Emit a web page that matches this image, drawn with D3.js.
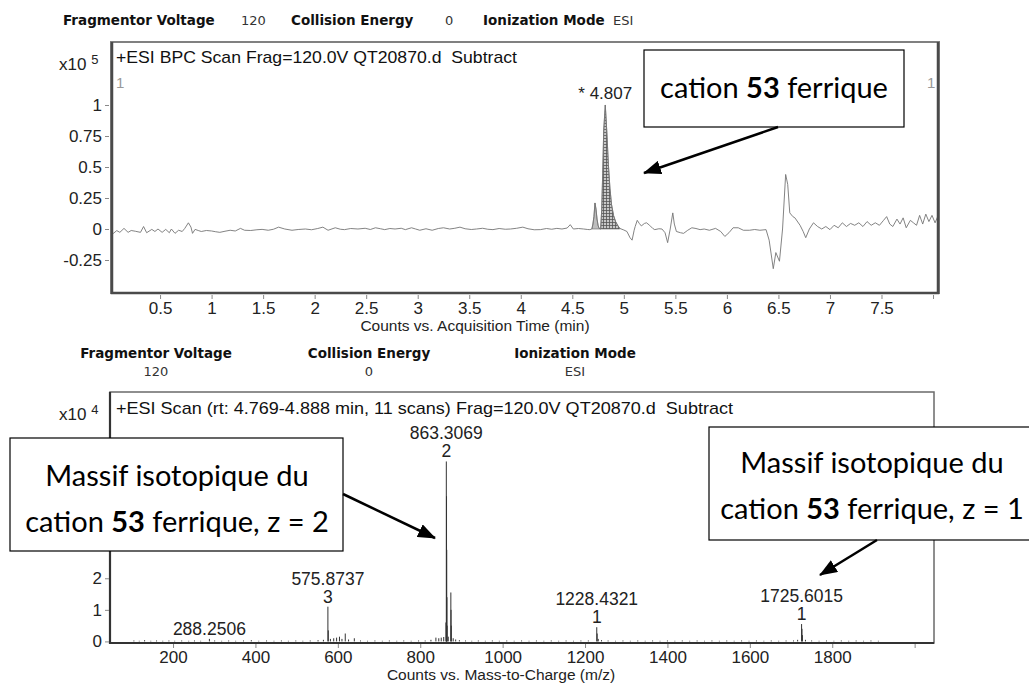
<!DOCTYPE html>
<html>
<head>
<meta charset="utf-8">
<script src="https://cdn.jsdelivr.net/npm/d3@7"></script>
<style>
	body { margin: 0; background: #fff; }
	#container { width: 1029px; height: 686px; overflow: hidden; }
</style>
</head>
<body>
<div id="container"></div>
<script>
// BPC chromatogram: [time (min), counts x10^5]
var bpcTrace = [
	[0.03, -0.02], [0.047, -0.035], [0.08, -0.013], [0.11, -0.027], [0.15, 0.005], [0.19, -0.027],
	[0.22, -0.012], [0.26, -0.018], [0.31, -0.027], [0.34, 0.02], [0.37, -0.03], [0.42, -0.003],
	[0.45, -0.02], [0.48, 0.0], [0.52, -0.027], [0.555, -0.003], [0.59, -0.03], [0.61, 0.0],
	[0.645, -0.035], [0.68, -0.01], [0.715, -0.02], [0.74, 0.005], [0.775, 0.05], [0.80, 0.015],
	[0.815, -0.035], [0.84, -0.003], [0.87, -0.012], [0.90, -0.02], [0.95, -0.012], [1.0, -0.016],
	[1.04, -0.022], [1.08, -0.027], [1.13, -0.018], [1.18, -0.01], [1.23, -0.016], [1.28, 0.005],
	[1.32, -0.01], [1.38, -0.012], [1.44, -0.006], [1.49, -0.003], [1.55, -0.01], [1.60, -0.002],
	[1.65, 0.015], [1.71, 0.0], [1.78, -0.01], [1.84, -0.004], [1.91, 0.0], [1.97, -0.006],
	[2.03, 0.004], [2.08, 0.015], [2.13, -0.01], [2.20, 0.01], [2.25, -0.002], [2.29, -0.005],
	[2.35, 0.004], [2.42, 0.0], [2.49, 0.006], [2.54, -0.004], [2.59, 0.01], [2.64, 0.002],
	[2.68, -0.005], [2.73, 0.004], [2.78, 0.0], [2.84, 0.006], [2.88, -0.005], [2.94, 0.01],
	[2.98, 0.0], [3.02, -0.01], [3.08, 0.002], [3.14, -0.01], [3.20, 0.004], [3.25, 0.01],
	[3.31, 0.0], [3.36, 0.006], [3.41, 0.015], [3.46, 0.002], [3.52, -0.004], [3.57, 0.0],
	[3.63, 0.006], [3.68, -0.002], [3.73, -0.005], [3.79, 0.004], [3.85, -0.002], [3.90, 0.0],
	[3.96, 0.006], [4.02, 0.015], [4.07, 0.002], [4.13, -0.006], [4.19, -0.005], [4.25, 0.004],
	[4.30, -0.002], [4.35, 0.005], [4.40, 0.0], [4.45, 0.008], [4.48, 0.035], [4.51, 0.0],
	[4.56, 0.004], [4.61, 0.0], [4.65, -0.004], [4.67, -0.005], [4.69, 0.0], [4.70, 0.04],
	[4.71, 0.1], [4.72, 0.21], [4.73, 0.16], [4.74, 0.08], [4.75, 0.03], [4.76, 0.005],
	[4.775, 0.0], [4.785, 0.15], [4.795, 0.45], [4.805, 0.8], [4.82, 1.0], [4.835, 0.78],
	[4.85, 0.52], [4.865, 0.33], [4.88, 0.2], [4.90, 0.11], [4.92, 0.06], [4.94, 0.03],
	[4.96, 0.005], [5.0, -0.008], [5.03, -0.02], [5.06, -0.07], [5.08, -0.09], [5.10, -0.01],
	[5.11, 0.02], [5.13, 0.07], [5.15, 0.045], [5.17, 0.025], [5.20, 0.045], [5.22, 0.05],
	[5.25, 0.03], [5.28, 0.005], [5.30, -0.005], [5.34, 0.002], [5.37, 0.0], [5.40, -0.03],
	[5.425, -0.11], [5.45, 0.0], [5.475, 0.13], [5.49, 0.04], [5.51, -0.02], [5.55, -0.03],
	[5.58, -0.035], [5.62, -0.01], [5.66, 0.01], [5.70, 0.004], [5.74, -0.005], [5.78, 0.0],
	[5.83, -0.01], [5.89, 0.005], [5.94, -0.02], [5.98, -0.06], [6.02, -0.03], [6.06, 0.01],
	[6.11, 0.01], [6.16, -0.01], [6.22, -0.01], [6.27, -0.004], [6.32, -0.01], [6.38, -0.005],
	[6.41, -0.09], [6.45, -0.32], [6.475, -0.19], [6.51, -0.26], [6.54, 0.0], [6.57, 0.44],
	[6.59, 0.36], [6.61, 0.13], [6.64, 0.1], [6.66, 0.09], [6.71, 0.03], [6.74, -0.02],
	[6.765, -0.07], [6.80, 0.0], [6.84, 0.05], [6.88, 0.02], [6.92, 0.0], [6.96, 0.02],
	[7.0, -0.005], [7.04, 0.03], [7.08, 0.01], [7.12, 0.05], [7.16, 0.02], [7.20, 0.045],
	[7.24, 0.03], [7.28, 0.05], [7.32, 0.02], [7.36, 0.06], [7.40, 0.03], [7.44, 0.05],
	[7.48, 0.03], [7.52, 0.07], [7.55, 0.10], [7.58, 0.04], [7.61, 0.02], [7.65, 0.08],
	[7.68, 0.04], [7.71, 0.09], [7.74, 0.01], [7.78, 0.07], [7.81, 0.05], [7.84, 0.03],
	[7.87, 0.11], [7.90, 0.04], [7.93, 0.12], [7.96, 0.06], [7.99, 0.11], [8.02, 0.05],
	[8.05, 0.11]
];
var bpcPeakWindows = [[4.69, 4.775], [4.775, 4.96]];
var bpcApex = [4.82, 1.0, '* 4.807'];
var bpcXTicks = [0.5, 1, 1.5, 2, 2.5, 3, 3.5, 4, 4.5, 5, 5.5, 6, 6.5, 7, 7.5, 8];
var bpcYTicks = [-0.25, 0, 0.25, 0.5, 0.75, 1];

// mass spectrum: [m/z, counts x10^4]
var specPeaks = [
	[105, 0.03], [118, 0.02], [131, 0.04], [146, 0.02], [160, 0.03], [175, 0.02], [190, 0.03],
	[204, 0.02], [221, 0.03], [238, 0.02], [252, 0.03], [267, 0.02], [288.2506, 0.08], [301, 0.03],
	[318, 0.02], [335, 0.03], [352, 0.02], [371, 0.03], [390, 0.04], [408, 0.02], [427, 0.03],
	[445, 0.02], [463, 0.03], [480, 0.02], [498, 0.03], [515, 0.02], [533, 0.03], [552, 0.04],
	[565, 0.05], [575.8737, 1.1], [576.87, 0.35], [582, 0.08], [590, 0.1], [597, 0.12], [604, 0.15],
	[610, 0.08], [618, 0.25], [626, 0.06], [640, 0.1], [655, 0.03], [672, 0.02], [690, 0.03],
	[708, 0.02], [725, 0.03], [743, 0.02], [760, 0.03], [778, 0.02], [796, 0.03], [812, 0.03],
	[826, 0.05], [838, 0.12], [845, 0.1], [851, 0.12], [857, 0.14], [862.31, 0.6], [863.3069, 5.7],
	[863.81, 4.6], [864.31, 2.9], [864.81, 1.4], [865.31, 0.5], [868, 0.15], [874.3, 1.55],
	[874.8, 1.0], [875.3, 0.5], [880, 0.1], [886, 0.06], [895, 0.04], [910, 0.03], [925, 0.02],
	[941, 0.03], [958, 0.02], [975, 0.03], [992, 0.02], [1010, 0.03], [1028, 0.02], [1046, 0.03],
	[1064, 0.02], [1082, 0.03], [1100, 0.02], [1118, 0.03], [1136, 0.02], [1154, 0.03], [1172, 0.02],
	[1190, 0.03], [1208, 0.03], [1228.4321, 0.45], [1229.43, 0.25], [1232, 0.08], [1240, 0.04],
	[1256, 0.03], [1274, 0.02], [1292, 0.03], [1310, 0.02], [1328, 0.03], [1346, 0.02], [1364, 0.03],
	[1382, 0.02], [1400, 0.03], [1418, 0.02], [1436, 0.03], [1454, 0.02], [1472, 0.03], [1490, 0.02],
	[1508, 0.03], [1526, 0.02], [1544, 0.03], [1562, 0.02], [1580, 0.03], [1598, 0.02], [1616, 0.03],
	[1634, 0.02], [1652, 0.03], [1670, 0.02], [1688, 0.03], [1706, 0.03], [1716, 0.05],
	[1725.6015, 0.55], [1726.60, 0.4], [1727.60, 0.2], [1735, 0.05], [1750, 0.03], [1768, 0.02],
	[1786, 0.03], [1804, 0.02], [1822, 0.03], [1840, 0.02], [1858, 0.03], [1876, 0.02], [1894, 0.03],
	[1912, 0.02]
];
// labelled peaks: m/z, charge ('' = none)
var specLabelMz = [288.2506, 575.8737, 863.3069, 1228.4321, 1725.6015];
var specLabelCharge = ['', '3', '2', '1', '1'];
var specXTicks = [200, 400, 600, 800, 1000, 1200, 1400, 1600, 1800, 2000];
var specYTicks = [0, 1, 2];

var headerTop = [['Fragmentor Voltage', '120'], ['Collision Energy', '0'], ['Ionization Mode', 'ESI']];

var chartFont = '"Liberation Sans", Arial, sans-serif';
var headFont = '"DejaVu Sans", Tahoma, sans-serif';
var noteFont = 'Lato, "Open Sans", sans-serif';

var svg = d3.select('#container').append('svg')
	.attr('width', 1029)
	.attr('height', 686)
	.style('font-family', chartFont);

var defs = svg.append('defs');

var hatch = defs.append('pattern')
	.attr('id', 'hatch')
	.attr('patternUnits', 'userSpaceOnUse')
	.attr('width', 3)
	.attr('height', 3);
hatch.append('rect').attr('width', 3).attr('height', 3).attr('fill', '#c8c8c8');
hatch.append('path').attr('d', 'M0,0.5H3M0.5,0V3').attr('stroke', '#555').attr('stroke-width', 0.8);

defs.append('marker')
	.attr('id', 'arrow')
	.attr('markerUnits', 'userSpaceOnUse')
	.attr('viewBox', '0 0 18 14')
	.attr('refX', 17)
	.attr('refY', 7)
	.attr('markerWidth', 18)
	.attr('markerHeight', 14)
	.attr('orient', 'auto')
	.append('path')
	.attr('d', 'M0,0L18,7L0,14Z')
	.attr('fill', '#000');

drawHeaders();
drawChromatogram();
drawSpectrum();
drawNotes();

function drawHeaders() {
	// top header: one line
	var xs = [[63, 241], [291, 445], [483, 613]];
	headerTop.forEach(function(h, i) {
		svg.append('text')
			.attr('x', xs[i][0]).attr('y', 25)
			.style('font-family', headFont).style('font-weight', 'bold').style('font-size', '13.5px')
			.attr('fill', '#111')
			.text(h[0]);
		svg.append('text')
			.attr('x', xs[i][1]).attr('y', 25)
			.style('font-family', headFont).style('font-size', '13px')
			.attr('fill', '#333')
			.text(h[1]);
	});

	// bottom header: names above values
	var cx = [156, 369, 575];
	headerTop.forEach(function(h, i) {
		svg.append('text')
			.attr('x', cx[i]).attr('y', 358)
			.attr('text-anchor', 'middle')
			.style('font-family', headFont).style('font-weight', 'bold').style('font-size', '13.5px')
			.attr('fill', '#111')
			.text(h[0]);
		svg.append('text')
			.attr('x', cx[i]).attr('y', 376)
			.attr('text-anchor', 'middle')
			.style('font-family', headFont).style('font-size', '13px')
			.attr('fill', '#333')
			.text(h[1]);
	});
}

function drawChromatogram() {
	var x = d3.scaleLinear().domain([0.024, 8.058]).range([111, 939]);
	var y = d3.scaleLinear().domain([-0.516, 1.508]).range([293, 42]);

	var g = svg.append('g');

	g.append('rect')
		.attr('x', 111).attr('y', 42)
		.attr('width', 828).attr('height', 251)
		.attr('fill', '#fff')
		.attr('stroke', '#808080')
		.attr('stroke-width', 2);

	var pts = bpcTrace.map(function(d) { return { t: d[0], v: d[1] }; });

	var area = d3.area()
		.x(function(d) { return x(d.t); })
		.y0(y(0))
		.y1(function(d) { return y(d.v); });

	bpcPeakWindows.forEach(function(w, i) {
		var seg = pts.filter(function(d) { return d.t >= w[0] && d.t <= w[1]; });
		g.append('path')
			.attr('d', area(seg))
			.attr('fill', i === 0 ? '#bdbdbd' : 'url(#hatch)')
			.attr('stroke', '#666')
			.attr('stroke-width', 0.6);
	});

	var line = d3.line()
		.x(function(d) { return x(d.t); })
		.y(function(d) { return y(d.v); });

	g.append('path')
		.attr('d', line(pts))
		.attr('fill', 'none')
		.attr('stroke', '#757575')
		.attr('stroke-width', 0.9);

	// heavy left / bottom / right frame
	g.append('path')
		.attr('d', 'M112,42V293H938V42')
		.attr('fill', 'none')
		.attr('stroke', '#4a4a4a')
		.attr('stroke-width', 2.5);

	var xAxis = g.append('g')
		.attr('transform', 'translate(0,295)')
		.call(d3.axisBottom(x).tickValues(bpcXTicks).tickSize(4).tickPadding(3)
			.tickFormat(function(d) { return d === 8 ? '' : String(d); }));
	xAxis.select('.domain').remove();

	var yAxis = g.append('g')
		.attr('transform', 'translate(109,0)')
		.call(d3.axisLeft(y).tickValues(bpcYTicks).tickSize(4).tickPadding(3)
			.tickFormat(function(d) { return String(d); }));
	yAxis.select('.domain').remove();

	g.selectAll('.tick line').attr('stroke', '#888');
	g.selectAll('.tick text')
		.style('font-family', chartFont)
		.style('font-size', '17px')
		.attr('fill', '#222');

	g.append('text')
		.attr('x', 475).attr('y', 331)
		.attr('text-anchor', 'middle')
		.style('font-size', '15.5px')
		.attr('fill', '#222')
		.text('Counts vs. Acquisition Time (min)');

	var mult = g.append('text')
		.attr('x', 59).attr('y', 70)
		.style('font-size', '17px')
		.attr('fill', '#222');
	mult.append('tspan').text('x10 ');
	mult.append('tspan').attr('dy', -6).style('font-size', '13px').text('5');

	g.append('text')
		.attr('x', 116).attr('y', 63)
		.style('font-size', '17px')
		.style('white-space', 'pre')
		.attr('textLength', 401)
		.attr('lengthAdjust', 'spacingAndGlyphs')
		.attr('fill', '#111')
		.text('+ESI BPC Scan Frag=120.0V QT20870.d  Subtract');

	g.append('text').attr('x', 116).attr('y', 88)
		.style('font-size', '15px').attr('fill', '#999').text('1');
	g.append('text').attr('x', 927).attr('y', 88)
		.style('font-size', '15px').attr('fill', '#999').text('1');

	g.append('text')
		.attr('x', x(bpcApex[0])).attr('y', y(bpcApex[1]) - 6)
		.attr('text-anchor', 'middle')
		.style('font-size', '17px')
		.attr('fill', '#222')
		.text(bpcApex[2]);
}

function drawSpectrum() {
	var x = d3.scaleLinear().domain([47, 2047]).range([110, 934]);
	var y = d3.scaleLinear().domain([-0.05, 7.9]).range([643, 392]);

	var g = svg.append('g');

	g.append('rect')
		.attr('x', 110).attr('y', 392)
		.attr('width', 824).attr('height', 251)
		.attr('fill', '#fff')
		.attr('stroke', '#6a6a6a')
		.attr('stroke-width', 1.5);

	g.selectAll('line.stick')
		.data(specPeaks)
		.enter().append('line')
		.attr('class', 'stick')
		.attr('x1', function(d) { return x(d[0]); })
		.attr('x2', function(d) { return x(d[0]); })
		.attr('y1', y(0))
		.attr('y2', function(d) { return y(d[1]); })
		.attr('stroke', '#333')
		.attr('stroke-width', 1);

	g.append('path')
		.attr('d', 'M110,392V643H934')
		.attr('fill', 'none')
		.attr('stroke', '#333')
		.attr('stroke-width', 2.2);

	var xAxis = g.append('g')
		.attr('transform', 'translate(0,644)')
		.call(d3.axisBottom(x).tickValues(specXTicks).tickSize(4).tickPadding(3)
			.tickFormat(function(d) { return d === 2000 ? '' : String(d); }));
	xAxis.select('.domain').remove();

	var yAxis = g.append('g')
		.attr('transform', 'translate(109,0)')
		.call(d3.axisLeft(y).tickValues(specYTicks).tickSize(4).tickPadding(3)
			.tickFormat(function(d) { return String(d); }));
	yAxis.select('.domain').remove();

	g.selectAll('.tick line').attr('stroke', '#888');
	g.selectAll('.tick text')
		.style('font-family', chartFont)
		.style('font-size', '17px')
		.attr('fill', '#222');

	g.append('text')
		.attr('x', 501).attr('y', 680)
		.attr('text-anchor', 'middle')
		.style('font-size', '15.5px')
		.attr('fill', '#222')
		.text('Counts vs. Mass-to-Charge (m/z)');

	var mult = g.append('text')
		.attr('x', 59).attr('y', 420)
		.style('font-size', '17px')
		.attr('fill', '#222');
	mult.append('tspan').text('x10 ');
	mult.append('tspan').attr('dy', -6).style('font-size', '13px').text('4');

	g.append('text')
		.attr('x', 116).attr('y', 414)
		.style('font-size', '17px')
		.style('white-space', 'pre')
		.attr('textLength', 617)
		.attr('lengthAdjust', 'spacingAndGlyphs')
		.attr('fill', '#111')
		.text('+ESI Scan (rt: 4.769-4.888 min, 11 scans) Frag=120.0V QT20870.d  Subtract');

	specLabelMz.forEach(function(mz, i) {
		var peak = specPeaks.filter(function(d) { return d[0] === mz; })[0];
		var top = y(peak[1]);
		var hasZ = specLabelCharge[i] !== '';
		g.append('text')
			.attr('x', x(mz)).attr('y', hasZ ? top - 22 : top - 4)
			.attr('text-anchor', 'middle')
			.style('font-size', '17.5px')
			.attr('fill', '#222')
			.text(mz.toFixed(4));
		if (hasZ) {
			g.append('text')
				.attr('x', x(mz)).attr('y', top - 4)
				.attr('text-anchor', 'middle')
				.style('font-size', '17.5px')
				.attr('fill', '#222')
				.text(specLabelCharge[i]);
		}
	});
}

function drawNotes() {
	var notes = [
		{ box: [644, 50, 260, 77], lines: [['cation ', '53', ' ferrique']], cx: 774, y0: 98, arrow: [778, 127, 644, 173] },
		{ box: [10, 438, 333, 113], lines: [['Massif isotopique du'], ['cation ', '53', ' ferrique, z = 2']], cx: 177, y0: 486, arrow: [343, 494, 435, 538] },
		{ box: [709, 427, 340, 113], lines: [['Massif isotopique du'], ['cation ', '53', ' ferrique, z = 1']], cx: 872, y0: 473, arrow: [877, 540, 820, 575] }
	];

	notes.forEach(function(n) {
		var g = svg.append('g');
		g.append('rect')
			.attr('x', n.box[0]).attr('y', n.box[1])
			.attr('width', n.box[2]).attr('height', n.box[3])
			.attr('fill', '#fff')
			.attr('stroke', '#000')
			.attr('stroke-width', 1.2);
		n.lines.forEach(function(parts, j) {
			var t = g.append('text')
				.attr('x', n.cx).attr('y', n.y0 + j * 46)
				.attr('text-anchor', 'middle')
				.style('font-family', noteFont)
				.style('font-size', '29px')
				.attr('fill', '#000');
			parts.forEach(function(p, k) {
				t.append('tspan')
					.style('font-weight', k === 1 ? 'bold' : 'normal')
					.text(p);
			});
		});
		g.append('line')
			.attr('x1', n.arrow[0]).attr('y1', n.arrow[1])
			.attr('x2', n.arrow[2]).attr('y2', n.arrow[3])
			.attr('stroke', '#000')
			.attr('stroke-width', 2.5)
			.attr('marker-end', 'url(#arrow)');
	});
}
</script>
</body>
</html>
